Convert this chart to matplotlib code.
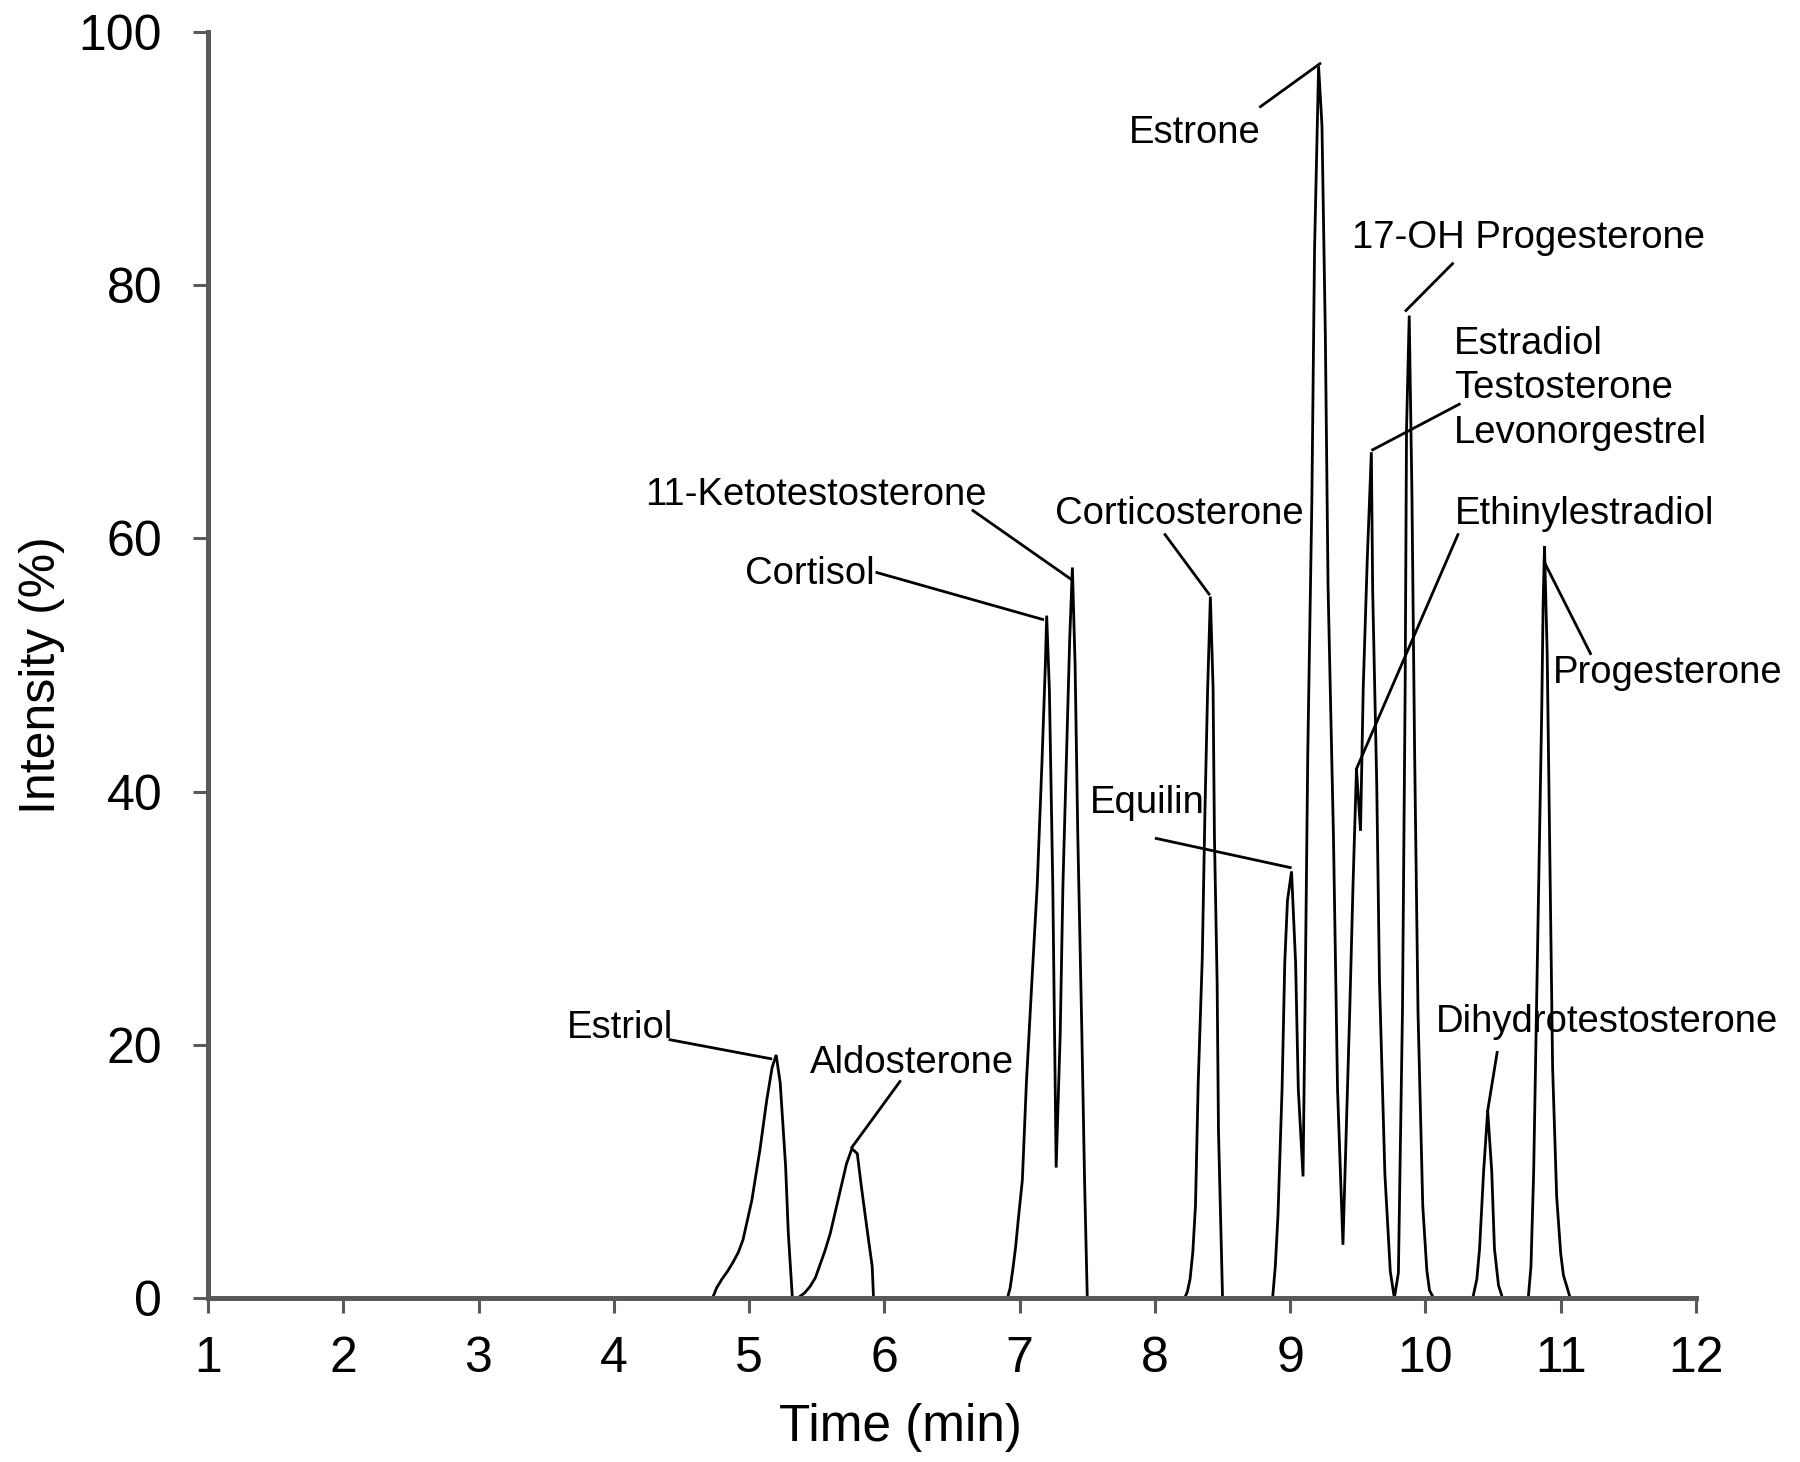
import matplotlib
matplotlib.use("Agg")
import matplotlib.pyplot as plt
import numpy as np

plt.rcParams['font.family'] = ['Liberation Sans', 'DejaVu Sans']

# ---------------- data: chromatogram trace ----------------
estriol_time = [4.73, 4.76, 4.80, 4.84, 4.88, 4.92, 4.955, 5.02, 5.08, 5.13, 5.17, 5.20, 5.23, 5.27, 5.29, 5.32]
estriol_int = [0.0, 0.8, 1.5, 2.1, 2.8, 3.6, 4.6, 7.7, 11.7, 15.6, 18.2, 19.2, 17.0, 10.4, 5.1, 0.0]

aldosterone_time = [5.36, 5.41, 5.45, 5.49, 5.52, 5.56, 5.60, 5.67, 5.72, 5.76, 5.80, 5.83, 5.87, 5.91, 5.92]
aldosterone_int = [0.0, 0.4, 0.9, 1.6, 2.5, 3.7, 5.1, 8.3, 10.6, 11.8, 11.4, 8.8, 5.6, 2.5, 0.0]

cortisol_kt_time = [6.91, 6.93, 6.95, 6.97, 6.99, 7.02, 7.05, 7.09, 7.13, 7.165, 7.19, 7.20, 7.22, 7.245,
                    7.26, 7.27, 7.30, 7.32, 7.35, 7.37, 7.39, 7.41, 7.43, 7.46, 7.48, 7.50]
cortisol_kt_int = [0.0, 0.8, 2.3, 4.0, 6.2, 9.3, 17.0, 24.9, 32.6, 42.3, 50.0, 53.9, 48.0, 32.6,
                   19.0, 10.3, 20.9, 32.6, 44.3, 52.0, 57.7, 50.0, 36.5, 20.9, 9.3, 0.0]

corticosterone_time = [8.22, 8.24, 8.26, 8.28, 8.30, 8.32, 8.35, 8.37, 8.39, 8.41, 8.43, 8.44, 8.46, 8.47, 8.49, 8.50]
corticosterone_int = [0.0, 0.5, 1.5, 3.6, 7.3, 17.0, 26.8, 38.5, 48.2, 55.4, 48.2, 36.5, 24.9, 13.2, 4.6, 0.0]

cluster_time = [8.87, 8.89, 8.91, 8.94, 8.96, 8.98, 9.01, 9.04, 9.06, 9.095,
                9.11, 9.13, 9.16, 9.18, 9.20, 9.21, 9.235, 9.26, 9.28, 9.32, 9.35, 9.39,
                9.44, 9.465, 9.49, 9.52, 9.54, 9.57, 9.60, 9.61, 9.64, 9.66, 9.70, 9.74, 9.77,
                9.80, 9.83, 9.85, 9.86, 9.88, 9.90, 9.92, 9.945, 9.98, 10.01, 10.03, 10.06]
cluster_int = [0.0, 2.5, 6.6, 16.5, 26.5, 31.4, 33.7, 26.5, 16.5, 9.6,
               23.1, 43.0, 62.8, 82.7, 92.6, 97.3, 92.6, 76.0, 56.2, 36.4, 16.5, 4.2,
               22.6, 32.8, 41.8, 36.9, 48.2, 58.4, 66.8, 55.8, 40.5, 25.1, 9.8, 2.1, 0.0,
               2.0, 22.6, 48.2, 68.6, 77.6, 63.5, 43.0, 22.6, 7.3, 2.2, 0.6, 0.0]

dht_time = [10.35, 10.38, 10.40, 10.43, 10.46, 10.49, 10.51, 10.54, 10.57]
dht_int = [0.0, 1.5, 3.9, 10.0, 14.8, 10.0, 3.9, 1.0, 0.0]

progesterone_time = [10.76, 10.78, 10.80, 10.82, 10.84, 10.86, 10.87, 10.88, 10.90, 10.92, 10.94, 10.97, 11.00, 11.02, 11.07]
progesterone_int = [0.0, 2.5, 10.0, 22.2, 34.4, 46.7, 54.9, 59.4, 50.8, 34.4, 18.2, 8.0, 3.5, 1.8, 0.0]

# ---------------- annotations ----------------
label_texts = ["Estrone", "17-OH Progesterone", "Estradiol", "Testosterone", "Levonorgestrel",
               "Ethinylestradiol", "Corticosterone", "11-Ketotestosterone", "Cortisol",
               "Equilin", "Estriol", "Aldosterone", "Dihydrotestosterone", "Progesterone"]
label_x = [7.81, 9.46, 10.21, 10.21, 10.21, 10.22, 7.26, 4.23, 4.97, 7.52, 3.65, 5.45, 10.08, 10.94]
label_y = [91.2, 82.9, 74.6, 71.1, 67.5, 61.1, 61.1, 62.6, 56.4, 38.3, 20.5, 17.8, 21.0, 48.6]

leader_x0 = [8.78, 10.20, 10.25, 10.24, 8.075, 6.655, 5.945, 8.01, 4.415, 6.115, 10.53, 11.22]
leader_y0 = [94.1, 81.7, 70.6, 60.3, 60.3, 62.2, 57.3, 36.3, 20.4, 17.1, 19.4, 50.9]
leader_x1 = [9.22, 9.856, 9.61, 9.49, 8.40, 7.39, 7.17, 9.00, 5.16, 5.76, 10.46, 10.88]
leader_y1 = [97.5, 78.0, 67.0, 41.8, 55.6, 56.7, 53.6, 34.0, 18.9, 11.9, 14.8, 58.1]

x_ticks = list(range(1, 13))
y_ticks = [0, 20, 40, 60, 80, 100]

# ---------------- figure ----------------
W, H = 1800, 1462
fig = plt.figure(figsize=(W / 100, H / 100), dpi=100)
ax = fig.add_axes([208 / W, 1 - 1298 / H, 1488 / W, 1266 / H])

segments = [(estriol_time, estriol_int), (aldosterone_time, aldosterone_int),
            (cortisol_kt_time, cortisol_kt_int), (corticosterone_time, corticosterone_int),
            (cluster_time, cluster_int), (dht_time, dht_int),
            (progesterone_time, progesterone_int)]
t = np.concatenate([[1.0]] + [np.asarray(s[0]) for s in segments] + [[12.0]])
y = np.concatenate([[0.0]] + [np.asarray(s[1]) for s in segments] + [[0.0]])
ax.plot(t, y, color='black', lw=2.0, solid_joinstyle='miter', zorder=2)

for x0, y0, x1, y1 in zip(leader_x0, leader_y0, leader_x1, leader_y1):
    ax.plot([x0, x1], [y0, y1], color='black', lw=2.0, zorder=3, clip_on=False)

for txt, x, yy in zip(label_texts, label_x, label_y):
    ax.text(x, yy, txt, fontsize=27.5, ha='left', va='baseline', color='black', zorder=4)

ax.set_xlim(1, 12)
ax.set_ylim(0, 100)
ax.set_xticks(x_ticks)
ax.set_yticks(y_ticks)
ax.set_xticklabels([str(v) for v in x_ticks])
ax.set_yticklabels([str(v) for v in y_ticks])

spine_col = '#595959'
for s in ['top', 'right']:
    ax.spines[s].set_visible(False)
for s in ['left', 'bottom']:
    ax.spines[s].set_color(spine_col)
    ax.spines[s].set_linewidth(3.6)
    ax.spines[s].set_zorder(5)
ax.tick_params(axis='both', direction='out', length=11, width=2.2, color=spine_col,
               labelcolor='black', labelsize=36)
ax.tick_params(axis='x', pad=16)
ax.tick_params(axis='y', pad=22)

fig.text(0.5, 1 - 1441 / H, 'Time (min)', fontsize=37, ha='center', va='baseline')
fig.text(42 / W, 1 - 675 / H, 'Intensity (%)', fontsize=36, ha='center', va='center',
         rotation=90)

fig.savefig('out.png', dpi=100, facecolor='white')
